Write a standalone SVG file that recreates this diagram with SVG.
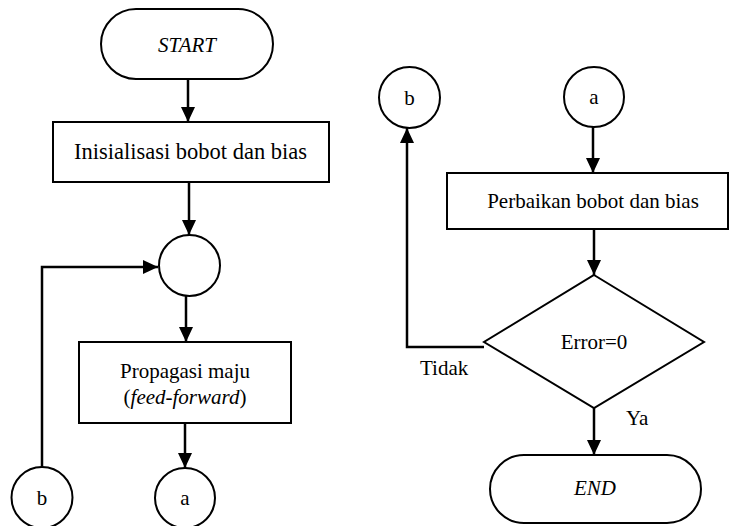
<svg xmlns="http://www.w3.org/2000/svg" width="729" height="526" viewBox="0 0 729 526">
<style>
.s{fill:#fff;stroke:#000;stroke-width:2}
.c{fill:none;stroke:#000;stroke-width:2.5}
text{font-family:"Liberation Serif","Times New Roman",serif;font-size:21px;fill:#000;text-anchor:middle}
.i{font-style:italic}
.l{text-anchor:start}
</style>
<defs>
<marker id="ah" markerUnits="userSpaceOnUse" markerWidth="15" markerHeight="14" refX="15" refY="7" orient="auto">
<path d="M0,0 L15,7 L0,14 z" fill="#000"/>
</marker>
</defs>
<rect width="729" height="526" fill="#fff"/>
<g id="connectors">
<path class="c" d="M188,79 L188,122" marker-end="url(#ah)"/>
<path class="c" d="M189,182 L189,235" marker-end="url(#ah)"/>
<path class="c" d="M42,467 L42,267 L158,267" marker-end="url(#ah)"/>
<path class="c" d="M186,296 L186,342" marker-end="url(#ah)"/>
<path class="c" d="M185,423 L185,468" marker-end="url(#ah)"/>
<path class="c" d="M593,127 L593,173" marker-end="url(#ah)"/>
<path class="c" d="M594,229 L594,275" marker-end="url(#ah)"/>
<path class="c" d="M484,347 L407,347 L407,128" marker-end="url(#ah)"/>
<path class="c" d="M594,408 L594,455" marker-end="url(#ah)"/>
</g>
<g id="start">
<rect class="s" x="101" y="9" width="172" height="70" rx="35"/>
<text class="i" x="187" y="52">START</text>
</g>
<g id="init">
<rect class="s" x="53" y="122" width="276" height="60"/>
<text x="190.5" y="159" style="font-size:22.5px">Inisialisasi bobot dan bias</text>
</g>
<g id="junction">
<circle class="s" cx="189.5" cy="265.5" r="30.5"/>
</g>
<g id="propagasi">
<rect class="s" x="79" y="342" width="212" height="81"/>
<text x="185" y="378">Propagasi maju</text>
<text x="185" y="404">(<tspan class="i">feed-forward</tspan>)</text>
</g>
<g id="b-left">
<circle class="s" cx="42" cy="497.5" r="30.5"/>
<text x="42" y="505">b</text>
</g>
<g id="a-left">
<circle class="s" cx="185" cy="498" r="30"/>
<text x="185" y="505">a</text>
</g>
<g id="b-right">
<circle class="s" cx="409.5" cy="97.5" r="30.5"/>
<text x="409.5" y="105">b</text>
</g>
<g id="a-right">
<circle class="s" cx="594" cy="97" r="30"/>
<text x="594" y="104">a</text>
</g>
<g id="perbaikan">
<rect class="s" x="447" y="173" width="281" height="56"/>
<text x="593" y="208">Perbaikan bobot dan bias</text>
</g>
<g id="decision">
<polygon class="s" points="594,275 704,342 594,408 484,342"/>
<text x="594" y="349">Error=0</text>
<text class="l" x="420" y="375">Tidak</text>
<text class="l" x="626" y="425">Ya</text>
</g>
<g id="end">
<rect class="s" x="490" y="455" width="211" height="68" rx="34"/>
<text class="i" x="595" y="495">END</text>
</g>
</svg>
